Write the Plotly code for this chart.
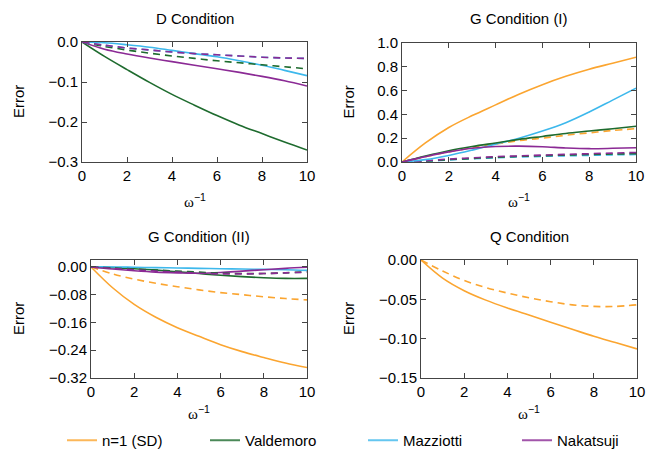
import plotly.graph_objects as go

x = [0, 1, 2, 3, 4, 5, 6, 7, 8, 9, 10]

# D condition
d_valdemoro = [0, -0.036, -0.069, -0.101, -0.131, -0.158, -0.184, -0.208, -0.229, -0.250, -0.270]
d_mazziotti = [0, -0.002, -0.007, -0.013, -0.021, -0.029, -0.037, -0.047, -0.058, -0.071, -0.084]
d_nakatsuji = [0, -0.018, -0.030, -0.040, -0.049, -0.058, -0.067, -0.076, -0.086, -0.097, -0.110]
d_valdemoro_d = [0, -0.011, -0.020, -0.028, -0.035, -0.041, -0.047, -0.052, -0.057, -0.062, -0.067]
d_mazziotti_d = [0, -0.008, -0.015, -0.020, -0.025, -0.029, -0.032, -0.035, -0.038, -0.040, -0.041]
d_nakatsuji_d = [0, -0.008, -0.015, -0.020, -0.025, -0.029, -0.032, -0.035, -0.038, -0.040, -0.041]

# G condition (I)
g1_sd = [0, 0.16, 0.29, 0.39, 0.48, 0.57, 0.65, 0.72, 0.78, 0.83, 0.88]
g1_valdemoro = [0, 0.05, 0.095, 0.13, 0.16, 0.19, 0.215, 0.24, 0.26, 0.28, 0.30]
g1_mazziotti = [0, 0.02, 0.055, 0.10, 0.15, 0.20, 0.26, 0.33, 0.42, 0.52, 0.62]
g1_nakatsuji = [0, 0.045, 0.085, 0.115, 0.13, 0.133, 0.128, 0.118, 0.112, 0.115, 0.12]
g1_sd_d = [0, 0.045, 0.085, 0.12, 0.15, 0.18, 0.20, 0.225, 0.245, 0.265, 0.28]
g1_valdemoro_d = [0, 0.008, 0.02, 0.03, 0.04, 0.047, 0.053, 0.058, 0.063, 0.067, 0.07]
g1_mazziotti_d = [0, 0.006, 0.017, 0.027, 0.035, 0.042, 0.047, 0.052, 0.056, 0.06, 0.063]
g1_nakatsuji_d = [0, 0.01, 0.025, 0.035, 0.045, 0.052, 0.058, 0.064, 0.07, 0.075, 0.08]

# G condition (II)
g2_sd = [0, -0.06, -0.108, -0.145, -0.175, -0.200, -0.224, -0.244, -0.261, -0.277, -0.290]
g2_valdemoro = [0, -0.002, -0.005, -0.009, -0.014, -0.019, -0.024, -0.028, -0.031, -0.033, -0.033]
g2_mazziotti = [0, 0, -0.001, -0.002, -0.003, -0.004, -0.005, -0.006, -0.007, -0.008, -0.010]
g2_nakatsuji = [0, -0.006, -0.011, -0.015, -0.017, -0.018, -0.016, -0.012, -0.008, -0.004, -0.001]
g2_sd_d = [0, -0.020, -0.035, -0.047, -0.057, -0.066, -0.074, -0.080, -0.086, -0.091, -0.095]
g2_valdemoro_d = [0, -0.003, -0.006, -0.009, -0.012, -0.015, -0.018, -0.019, -0.019, -0.017, -0.014]
g2_nakatsuji_d = [0, -0.004, -0.008, -0.012, -0.015, -0.018, -0.020, -0.020, -0.019, -0.017, -0.015]

# Q condition
q_sd = [0, -0.023, -0.039, -0.051, -0.061, -0.070, -0.079, -0.088, -0.097, -0.105, -0.113]
q_sd_d = [0, -0.014, -0.026, -0.035, -0.042, -0.048, -0.053, -0.057, -0.059, -0.059, -0.057]

names = ["n=1 (SD)", "Valdemoro", "Mazziotti", "Nakatsuji"]
colors = {"n=1 (SD)": "#FBA530", "Valdemoro": "#1E6B2E", "Mazziotti": "#3DB8EC", "Nakatsuji": "#8B2A95"}

titles = ["D Condition", "G Condition (I)", "G Condition (II)", "Q Condition"]
ytickvals = [
    [0.0, -0.1, -0.2, -0.3],
    [0.0, 0.2, 0.4, 0.6, 0.8, 1.0],
    [0.00, -0.08, -0.16, -0.24, -0.32],
    [0.00, -0.05, -0.10, -0.15],
]
yfmt = [".1f", ".1f", ".2f", ".2f"]
yranges = [[-0.3, 0.0], [0.0, 1.0], [-0.32, 0.02], [-0.15, 0.0]]

W, H = 650, 450
MB = 40            # bottom margin reserved for the legend
PH = H - MB        # plot-area height in pixels


def py(ypx):
    return 1 - ypx / PH


# pixel boxes: left, right, top, bottom
boxes = [(82, 307, 42, 162), (402, 636, 43, 162), (91, 307, 260, 378), (421, 637, 260, 378)]
legend_left = [62, 205, 363, 517]

fig = go.Figure()

panels = [
    [("Valdemoro", d_valdemoro, "solid"), ("Mazziotti", d_mazziotti, "solid"), ("Nakatsuji", d_nakatsuji, "solid"),
     ("Valdemoro", d_valdemoro_d, "dash"), ("Mazziotti", d_mazziotti_d, "dash"), ("Nakatsuji", d_nakatsuji_d, "dash")],
    [("Mazziotti", g1_mazziotti_d, "dash"), ("Valdemoro", g1_valdemoro_d, "dash"), ("Nakatsuji", g1_nakatsuji_d, "dash"),
     ("n=1 (SD)", g1_sd_d, "dash"),
     ("n=1 (SD)", g1_sd, "solid"), ("Mazziotti", g1_mazziotti, "solid"), ("Valdemoro", g1_valdemoro, "solid"),
     ("Nakatsuji", g1_nakatsuji, "solid")],
    [("n=1 (SD)", g2_sd, "solid"), ("n=1 (SD)", g2_sd_d, "dash"), ("Valdemoro", g2_valdemoro, "solid"),
     ("Mazziotti", g2_mazziotti, "solid"), ("Nakatsuji", g2_nakatsuji, "solid"),
     ("Valdemoro", g2_valdemoro_d, "dash"), ("Nakatsuji", g2_nakatsuji_d, "dash")],
    [("n=1 (SD)", q_sd, "solid"), ("n=1 (SD)", q_sd_d, "dash")],
]

FONT = "Liberation Sans, Arial, sans-serif"
axis_font = dict(family=FONT, size=15, color="black")

legend_keys = ["legend", "legend2", "legend3", "legend4"]
for k, name in enumerate(names):
    fig.add_trace(go.Scatter(x=[None], y=[None], mode="lines", name=name,
                             line=dict(color=colors[name], width=2), opacity=0.8, showlegend=True,
                             legend=legend_keys[k], xaxis="x", yaxis="y", hoverinfo="skip"))

for i, series in enumerate(panels):
    xa = "x" if i == 0 else f"x{i+1}"
    ya = "y" if i == 0 else f"y{i+1}"
    for name, vals, dash in series:
        fig.add_trace(go.Scatter(x=x, y=vals, mode="lines", showlegend=False,
                                 line=dict(color=colors[name], width=1.6, shape="spline",
                                           dash=("7px,5px" if dash == "dash" else "solid")),
                                 xaxis=xa, yaxis=ya, name=name))
    l, r, t, b = boxes[i]
    xkey = "xaxis" if i == 0 else f"xaxis{i+1}"
    ykey = "yaxis" if i == 0 else f"yaxis{i+1}"
    common = dict(showline=True, linecolor="#444", linewidth=1, mirror="allticks", ticks="inside",
                  ticklen=5, tickcolor="#444", showgrid=False, zeroline=False, tickfont=axis_font)
    fig.layout[xkey] = dict(domain=[l / W, r / W], range=[0, 10], tickvals=[0, 2, 4, 6, 8, 10],
                            anchor=ya, **common)
    fig.layout[ykey] = dict(domain=[py(b), py(t)], range=yranges[i], tickvals=ytickvals[i],
                            tickformat=yfmt[i], anchor=xa, **common)
    cx = (l + r) / 2
    ty = 18 if i < 2 else 237
    fig.add_annotation(text=titles[i], x=cx / W, y=py(ty), xref="paper", yref="paper",
                       showarrow=False, font=axis_font, xanchor="center", yanchor="middle")
    ex = 18 if i % 2 == 0 else 348
    fig.add_annotation(text="Error", x=ex / W, y=py((t + b) / 2), xref="paper", yref="paper",
                       showarrow=False, font=axis_font, textangle=-90, xanchor="center", yanchor="middle")
    wy = 200 if i < 2 else 412
    fig.add_annotation(text="<span style='font-family:Liberation Serif, serif'>ω</span><sup>−1</sup>",
                       x=cx / W, y=py(wy), xref="paper", yref="paper",
                       showarrow=False, font=dict(family=FONT, size=15, color="black"),
                       xanchor="center", yanchor="middle")

leg_common = dict(orientation="h", yanchor="bottom", xanchor="left", y=py(457),
                  font=axis_font, bgcolor="rgba(0,0,0,0)", borderwidth=0)
fig.update_layout(
    width=W, height=H, margin=dict(l=0, r=0, t=0, b=MB, autoexpand=False),
    paper_bgcolor="white", plot_bgcolor="white",
    font=axis_font,
    legend=dict(x=legend_left[0] / W, **leg_common),
    legend2=dict(x=legend_left[1] / W, **leg_common),
    legend3=dict(x=legend_left[2] / W, **leg_common),
    legend4=dict(x=legend_left[3] / W, **leg_common),
)

fig.write_html("out.html")
